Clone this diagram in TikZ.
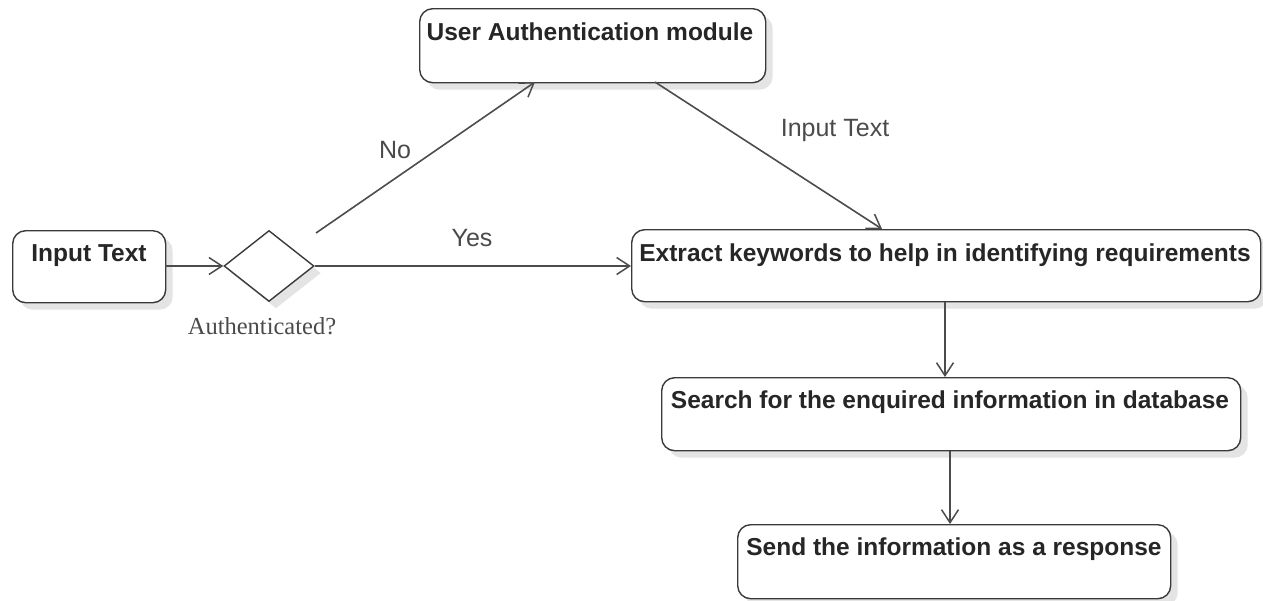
\documentclass[tikz,border=0pt]{standalone}
\usepackage{fontspec}
\setmainfont{Liberation Sans}
\newfontfamily\serifface{Liberation Serif}
\usetikzlibrary{shapes.geometric,shadows,arrows.meta}
\definecolor{edge}{HTML}{3A3A3A}
\definecolor{wire}{HTML}{4C4C4C}
\definecolor{labelgray}{HTML}{4A4A4A}
\definecolor{shade}{HTML}{E4E4E4}
\tikzset{
  actbox/.style={draw=edge, line width=1.4pt, rounded corners=13pt, fill=white,
    drop shadow={shadow xshift=7pt, shadow yshift=-7pt, fill=shade, opacity=1},
    anchor=north west, inner sep=0pt},
  boxtext/.style={font=\bfseries\fontsize{24.5}{28}\selectfont, text=black!85, anchor=base},
  flow/.style={draw=wire, line width=1.6pt, -{Straight Barb[length=13pt, width=17pt, line width=1.5pt]}},
  edgelabel/.style={font=\fontsize{25}{29}\selectfont, text=labelgray, anchor=base},
}
\begin{document}
\begin{tikzpicture}[x=1pt, y=-1pt]
\useasboundingbox (0,0) rectangle (1263,600);

% activity boxes
\node[actbox, minimum width=153pt, minimum height=72pt] (inp) at (12,230) {};
\node[boxtext] (inpT) at (89,261) {Input Text};

\node[actbox, minimum width=346pt, minimum height=74pt] (auth) at (419,8) {};
\node[boxtext] (authT) at (590,40) {User Authentication module};

\node[actbox, minimum width=629pt, minimum height=72pt] (extr) at (631,229) {};
\node[boxtext] (extrT) at (945,261) {Extract keywords to help in identifying requirements};

\node[actbox, minimum width=579pt, minimum height=73pt] (srch) at (661,377) {};
\node[boxtext] (srchT) at (950,408) {Search for the enquired information in database};

\node[actbox, minimum width=433pt, minimum height=74pt] (send) at (737,524) {};
\node[boxtext] (sendT) at (954,555) {Send the information as a response};

% decision
\node[diamond, draw=edge, line width=1.4pt, fill=white, minimum width=90pt, minimum height=71pt,
  inner sep=0pt, aspect=1.27,
  drop shadow={shadow xshift=7pt, shadow yshift=-7pt, fill=shade, opacity=1}] (dec) at (269,266) {};
\node[font=\serifface\fontsize{24.5}{28}\selectfont, text=labelgray, anchor=base] (declbl) at (262,334) {Authenticated?};

% connectors
\coordinate (inpR) at (165,266);
\coordinate (extL) at (631,266);
\coordinate (noS) at (316,233);
\coordinate (authB1) at (535,82);
\coordinate (authB2) at (655,82);
\coordinate (extT) at (882,229);

\draw[flow] (inpR) -- (dec.west);
\draw[flow] (dec.east) -- (extL);
\draw[flow] (noS) -- (authB1);
\draw[flow] (authB2) -- (extT);
\draw[flow] (extr.south -| 945,0) -- (srch.north -| 945,0);
\draw[flow] (srch.south -| 950,0) -- (send.north -| 950,0);

% connector labels
\node[edgelabel] (lyes) at (472,246) {Yes};
\node[edgelabel] (lno) at (395,158) {No};
\node[edgelabel] (lin) at (835,136) {Input Text};
\end{tikzpicture}
\end{document}
